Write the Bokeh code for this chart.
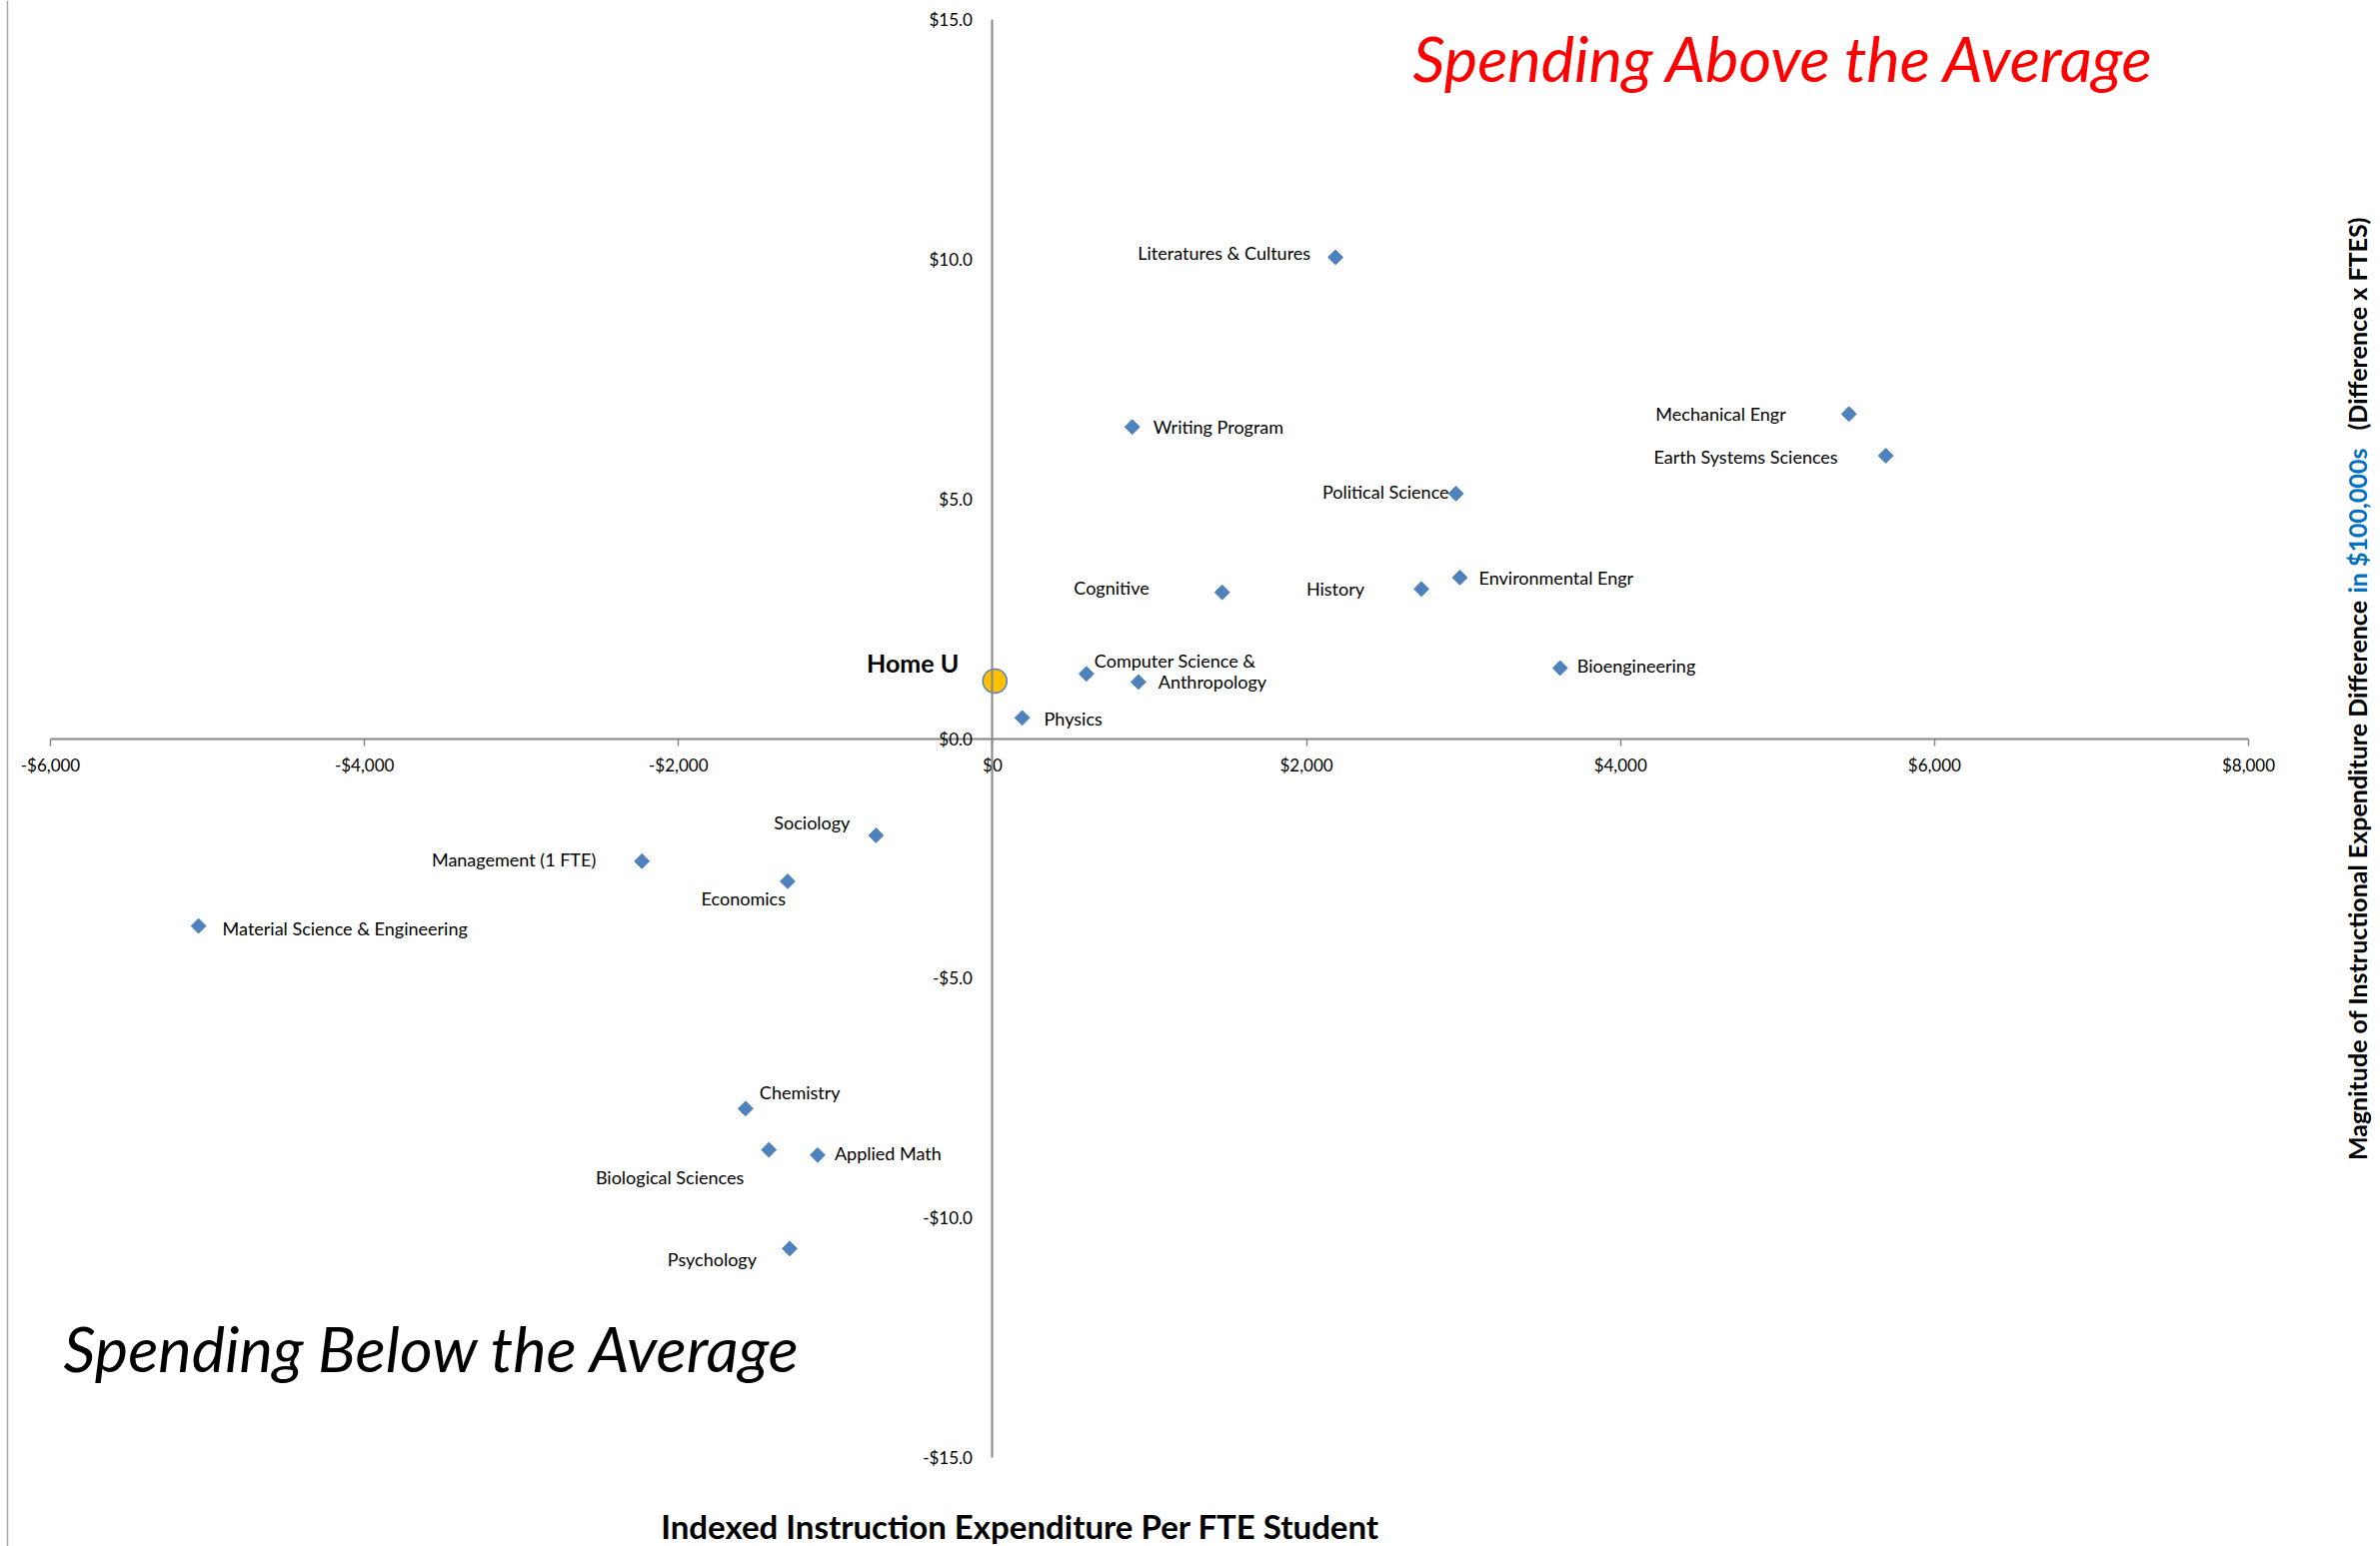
import math

from bokeh.core.properties import value
from bokeh.embed import file_html
from bokeh.models import ColumnDataSource, FixedTicker, Label, LinearAxis, Range1d, Span
from bokeh.plotting import figure
from bokeh.resources import INLINE

# ---- data -------------------------------------------------------------
departments = [
    "Literatures & Cultures", "Writing Program", "Mechanical Engr",
    "Earth Systems Sciences", "Political Science", "Environmental Engr",
    "History", "Cognitive", "Computer Science &", "Anthropology",
    "Bioengineering", "Physics", "Sociology", "Management (1 FTE)",
    "Economics", "Material Science & Engineering", "Chemistry",
    "Biological Sciences", "Applied Math", "Psychology",
]
# indexed instruction expenditure per FTE student, difference from average ($)
expenditure_per_fte = [
    2185, 890, 5455, 5690, 2952, 2977, 2732, 1463, 598, 929,
    3615, 189, -742, -2233, -1305, -5057, -1573, -1424, -1114, -1292,
]
# magnitude of the difference (difference x FTEs), in $100,000s
magnitude = [
    10.04, 6.50, 6.77, 5.90, 5.11, 3.36, 3.12, 3.05, 1.35, 1.18,
    1.47, 0.43, -2.02, -2.56, -2.98, -3.91, -7.72, -8.58, -8.69, -10.64,
]

home_name = ["Home U"]
home_expenditure = [15]
home_magnitude = [1.2]

x_ticks = [-6000, -4000, -2000, 0, 2000, 4000, 6000, 8000]
x_tick_labels = ["-$6,000", "-$4,000", "-$2,000", "$0", "$2,000", "$4,000", "$6,000", "$8,000"]
y_ticks = [-15, -10, -5, 0, 5, 10, 15]
y_tick_labels = ["-$15.0", "-$10.0", "-$5.0", "$0.0", "$5.0", "$10.0", "$15.0"]

# ---- label placement (screen pixel offsets from each marker) -----------
label_place = {
    "Literatures & Cultures": (-25, -4, "right"),
    "Writing Program": (21, 0, "left"),
    "Mechanical Engr": (-63, 0, "right"),
    "Earth Systems Sciences": (-48, 1, "right"),
    "Political Science": (-7, -2, "right"),
    "Environmental Engr": (19, 0, "left"),
    "History": (-57, 0, "right"),
    "Cognitive": (-73, -5, "right"),
    "Computer Science &": (8, -13, "left"),
    "Anthropology": (20, 0, "left"),
    "Bioengineering": (17, -2, "left"),
    "Physics": (22, 1, "left"),
    "Sociology": (-26, -13, "right"),
    "Management (1 FTE)": (-46, -2, "right"),
    "Economics": (-2, 17, "right"),
    "Material Science & Engineering": (24, 2, "left"),
    "Chemistry": (14, -16, "left"),
    "Biological Sciences": (-25, 27, "right"),
    "Applied Math": (17, -2, "left"),
    "Psychology": (-33, 11, "right"),
}

# ---- canvas geometry ---------------------------------------------------
W, H = 2381, 1547
X_MIN, X_MAX = -6000, 8000
Y_MIN, Y_MAX = -15, 15
X_MIN_PX, X_MAX_PX = 50, 2249      # where the x axis ends sit on the canvas
Y_MAX_PX, Y_MIN_PX = 19, 1458      # where the y axis ends sit on the canvas

ux = (X_MAX - X_MIN) / (X_MAX_PX - X_MIN_PX)
uy = (Y_MAX - Y_MIN) / (Y_MIN_PX - Y_MAX_PX)
x_start = X_MIN - X_MIN_PX * ux
x_end = X_MAX + (W - X_MAX_PX) * ux
y_top = Y_MAX + Y_MAX_PX * uy
y_bottom = Y_MIN - (H - Y_MIN_PX) * uy


def px_x(px):
    return x_start + px * ux


def px_y(py):
    return y_top - py * uy


FONT = "Lato"
AXIS_GREY = "#868686"
BLUE = "#4F81BD"

p = figure(
    width=W, height=H,
    x_range=Range1d(x_start, x_end), y_range=Range1d(y_bottom, y_top),
    x_axis_location=None, y_axis_location=None,
    output_backend="svg", toolbar_location=None,
    min_border=0, outline_line_color=None,
    background_fill_color="white", border_fill_color="white",
)
p.grid.visible = False

# axes crossing at the origin
xaxis = LinearAxis(
    fixed_location=0, bounds=(X_MIN, X_MAX),
    ticker=FixedTicker(ticks=x_ticks),
    major_label_overrides={t: s for t, s in zip(x_ticks, x_tick_labels)},
    axis_line_color=AXIS_GREY, axis_line_width=2,
    major_tick_line_color=AXIS_GREY, major_tick_line_width=1.5,
    major_tick_out=7, major_tick_in=0, minor_tick_line_color=None,
    major_label_standoff=9,
    major_label_text_font=FONT, major_label_text_font_size="17px",
    major_label_text_color="black",
)
p.add_layout(xaxis, "below")

yaxis = LinearAxis(
    fixed_location=0, bounds=(Y_MIN, Y_MAX),
    ticker=FixedTicker(ticks=y_ticks),
    major_label_overrides={t: s for t, s in zip(y_ticks, y_tick_labels)},
    axis_line_color=AXIS_GREY, axis_line_width=2,
    major_tick_line_color=None, major_tick_out=0, major_tick_in=0,
    minor_tick_line_color=None,
    major_label_standoff=20,
    major_label_text_font=FONT, major_label_text_font_size="17px",
    major_label_text_color="black",
)
p.add_layout(yaxis, "left")

# thin frame edge on the left of the chart area
p.add_layout(Span(location=px_x(7), dimension="height", line_color="#A6A6A6", line_width=1.5))

# ---- departments -------------------------------------------------------
src = ColumnDataSource(dict(name=departments, x=expenditure_per_fte, y=magnitude))
p.scatter("x", "y", source=src, marker="square", angle=math.pi / 4, size=10.5,
          fill_color=BLUE, line_color=BLUE)

for align in ("left", "right"):
    idx = [i for i, n in enumerate(departments) if label_place[n][2] == align]
    lsrc = ColumnDataSource(dict(
        name=[departments[i] for i in idx],
        x=[expenditure_per_fte[i] for i in idx],
        y=[magnitude[i] for i in idx],
        dx=[label_place[departments[i]][0] for i in idx],
        dy=[label_place[departments[i]][1] for i in idx],
    ))
    p.text("x", "y", text="name", x_offset="dx", y_offset="dy", source=lsrc,
           text_align=align, text_baseline="middle",
           text_font=value(FONT), text_font_size="18px", text_color="black")

# ---- home institution --------------------------------------------------
hsrc = ColumnDataSource(dict(name=home_name, x=home_expenditure, y=home_magnitude))
p.scatter("x", "y", source=hsrc, marker="circle", size=24,
          fill_color="#FFC000", line_color=BLUE, line_width=1.5)
p.text("x", "y", text="name", source=hsrc, x_offset=-36, y_offset=-18,
       text_align="right", text_baseline="middle",
       text_font=value(FONT), text_font_style="bold", text_font_size="25px",
       text_color="black")

# ---- quadrant captions ---------------------------------------------------
p.add_layout(Label(x=px_x(1413), y=px_y(57), text="Spending Above the Average",
                   text_font=FONT, text_font_style="italic", text_font_size="63px",
                   text_color="#FF0000", text_align="left", text_baseline="middle"))
p.add_layout(Label(x=px_x(63), y=px_y(1348), text="Spending Below the Average",
                   text_font=FONT, text_font_style="italic", text_font_size="63px",
                   text_color="black", text_align="left", text_baseline="middle"))

# ---- axis titles -----------------------------------------------------------
p.add_layout(Label(x=px_x(1020), y=px_y(1526), text="Indexed Instruction Expenditure Per FTE Student",
                   text_font=FONT, text_font_style="bold", text_font_size="33px",
                   text_color="black", text_align="center", text_baseline="middle"))

title_x = px_x(2357)
p.add_layout(Label(x=title_x, y=px_y(600), angle=math.pi / 2,
                   text="Magnitude of Instructional Expenditure Difference",
                   text_font=FONT, text_font_style="bold", text_font_size="25px",
                   text_color="black", text_align="right", text_baseline="middle"))
p.add_layout(Label(x=title_x, y=px_y(593), angle=math.pi / 2,
                   text="in $100,000s",
                   text_font=FONT, text_font_style="bold", text_font_size="25px",
                   text_color="#0070C0", text_align="left", text_baseline="middle"))
p.add_layout(Label(x=title_x, y=px_y(430), angle=math.pi / 2,
                   text="(Difference x FTES)",
                   text_font=FONT, text_font_style="bold", text_font_size="25px",
                   text_color="black", text_align="left", text_baseline="middle"))

open("out.html", "w").write(file_html(p, INLINE))
